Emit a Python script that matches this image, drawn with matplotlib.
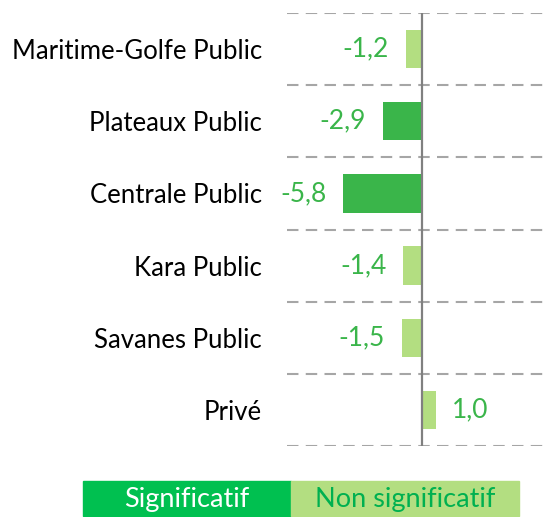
import matplotlib.pyplot as plt
from matplotlib.patches import Rectangle

categories = ["Maritime-Golfe Public", "Plateaux Public", "Centrale Public",
              "Kara Public", "Savanes Public", "Privé"]
values = [-1.2, -2.9, -5.8, -1.4, -1.5, 1.0]
significant = [False, True, True, False, False, False]

dark = "#3AB54A"
light = "#B3DE81"
txt_green = "#3AB54A"

plt.rcParams['font.family'] = ['Lato', 'DejaVu Sans']

fig = plt.figure(figsize=(5.45, 5.17), dpi=100)
ax = fig.add_axes([287 / 545, 71 / 517, 258 / 545, 433 / 517])

ypos = list(range(len(categories)))
colors = [dark if s else light for s in significant]
ax.barh(ypos, values, height=0.53, color=colors, zorder=2)

for y, v in zip(ypos, values):
    lab = ("%.1f" % v).replace(".", ",")
    if v < 0:
        ax.annotate(lab, (v, y), xytext=(-12, 0), textcoords="offset points",
                    ha="right", va="center", color=txt_green, fontsize=19)
    else:
        ax.annotate(lab, (v, y), xytext=(12, 0), textcoords="offset points",
                    ha="left", va="center", color=txt_green, fontsize=19)

# separators
for b in [i - 0.5 for i in range(len(categories) + 1)]:
    ax.axhline(b, color="#A6A6A6", lw=1.5, ls=(0, (5.5, 3.5)), zorder=1)
ax.axvline(0, color="#808080", lw=1.6, zorder=3)

ax.set_xlim(-9.93, 9.04)
ax.set_ylim(len(categories) - 0.5, -0.5)
ax.set_yticks(ypos)
ax.set_yticklabels(categories, fontsize=18.5)
ax.tick_params(axis="y", length=0, pad=18)
ax.set_xticks([])
for s in ax.spines.values():
    s.set_visible(False)

# legend boxes
fig.patches.append(Rectangle((83 / 545, 1 / 517), 208 / 545, 35 / 517,
                             transform=fig.transFigure, color="#00C050"))
fig.patches.append(Rectangle((291 / 545, 1 / 517), 228 / 545, 35 / 517,
                             transform=fig.transFigure, color="#B3DE81"))
fig.text(187 / 545, 18 / 517, "Significatif", color="white", fontsize=19.5,
         ha="center", va="center")
fig.text(405 / 545, 18 / 517, "Non significatif", color="#00B050", fontsize=19.5,
         ha="center", va="center")

fig.savefig("out.png", dpi=100)
